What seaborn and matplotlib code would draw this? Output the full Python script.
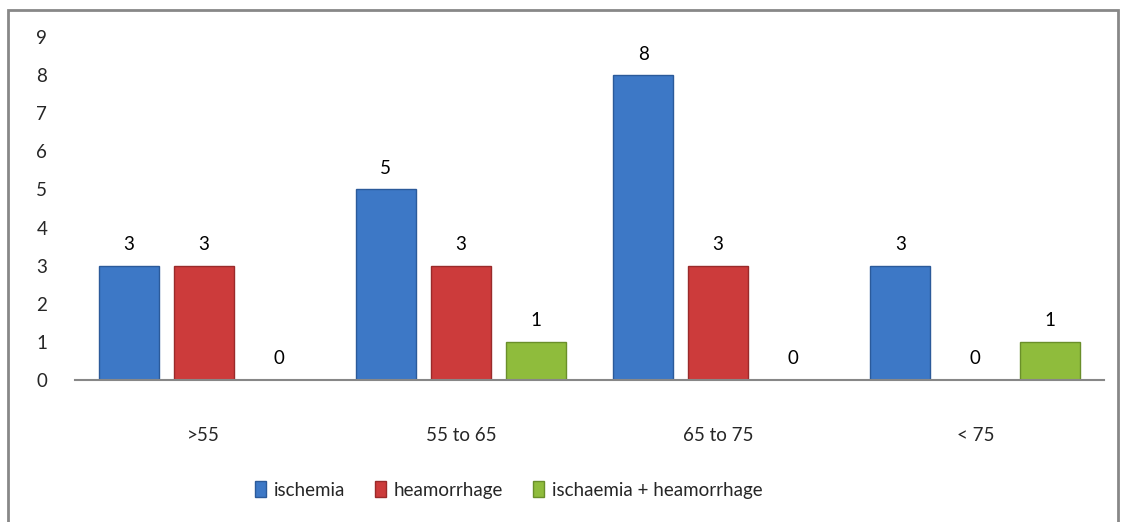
"""Stroke type by age group - grouped bar chart"""

import matplotlib.pyplot as plt
import matplotlib.patches as mpatches
import numpy as np
import pandas as pd
import seaborn as sns

# --------------------------------------------------------------------------- #
# Data
age_groups = ['>55', '55 to 65', '65 to 75', '< 75']
series_names = ['ischemia', 'heamorrhage', 'ischaemia + heamorrhage']
ischemia = [3, 5, 8, 3]
heamorrhage = [3, 3, 3, 0]
both = [0, 1, 0, 1]

colors = ['#3D78C6', '#CC3B3B', '#8FBC3C']
edges = ['#2B5A9A', '#9A2A2A', '#6A8F2A']

df = pd.DataFrame({
    'age': age_groups * 3,
    'type': np.repeat(series_names, len(age_groups)),
    'count': ischemia + heamorrhage + both,
})

# --------------------------------------------------------------------------- #
sns.set_style('white')
plt.rcParams['font.family'] = ['Lato', 'DejaVu Sans']

fig = plt.figure(figsize=(11.24, 5.22), dpi=100)
ax = fig.add_axes([75 / 1124, 1 - 380 / 522, (1104 - 75) / 1124, (380 - 37) / 522])

_ = sns.barplot(data=df, x='age', y='count', hue='type', order=age_groups,
                hue_order=series_names, palette=colors, width=0.875, gap=0.2,
                ax=ax, legend=False, saturation=1)

# darker edges on the bars, per series
for container, ec in zip(ax.containers, edges):
    for bar in container:
        bar.set_edgecolor(ec)
        bar.set_linewidth(1.0)
    ax.bar_label(container, fmt='%d', padding=9, fontsize=13.5, color='black')

ax.set_ylim(0, 9)
ax.set_xlim(-0.5, 3.5)
ax.set_yticks(range(0, 10))
ax.set_xlabel('')
ax.set_ylabel('')
ax.tick_params(axis='y', labelsize=13.5, pad=20, length=0)
ax.tick_params(axis='x', labelsize=13.5, pad=34, length=0)

for side in ['top', 'right', 'left']:
    ax.spines[side].set_visible(False)
ax.spines['bottom'].set_color('#878787')
ax.spines['bottom'].set_linewidth(1.5)

# legend at the bottom (sits a bit left of centre in the original)
handles = [mpatches.Patch(facecolor=c, edgecolor=e, label=n)
           for c, e, n in zip(colors, edges, series_names)]
fig.legend(handles=handles, loc='center left', bbox_to_anchor=(238 / 1124, 1 - 490 / 522),
           ncol=3, frameon=False, fontsize=13.5, handlelength=0.6, handleheight=0.9,
           handletextpad=0.4, columnspacing=1.6)

# chart border
border = mpatches.Rectangle((8 / 1124, -0.02), (1118 - 8) / 1124, 1 - 10 / 522 + 0.02,
                            transform=fig.transFigure, fill=False,
                            edgecolor='#888888', linewidth=2)
fig.patches.append(border)

fig.savefig('out.png', dpi=100)
